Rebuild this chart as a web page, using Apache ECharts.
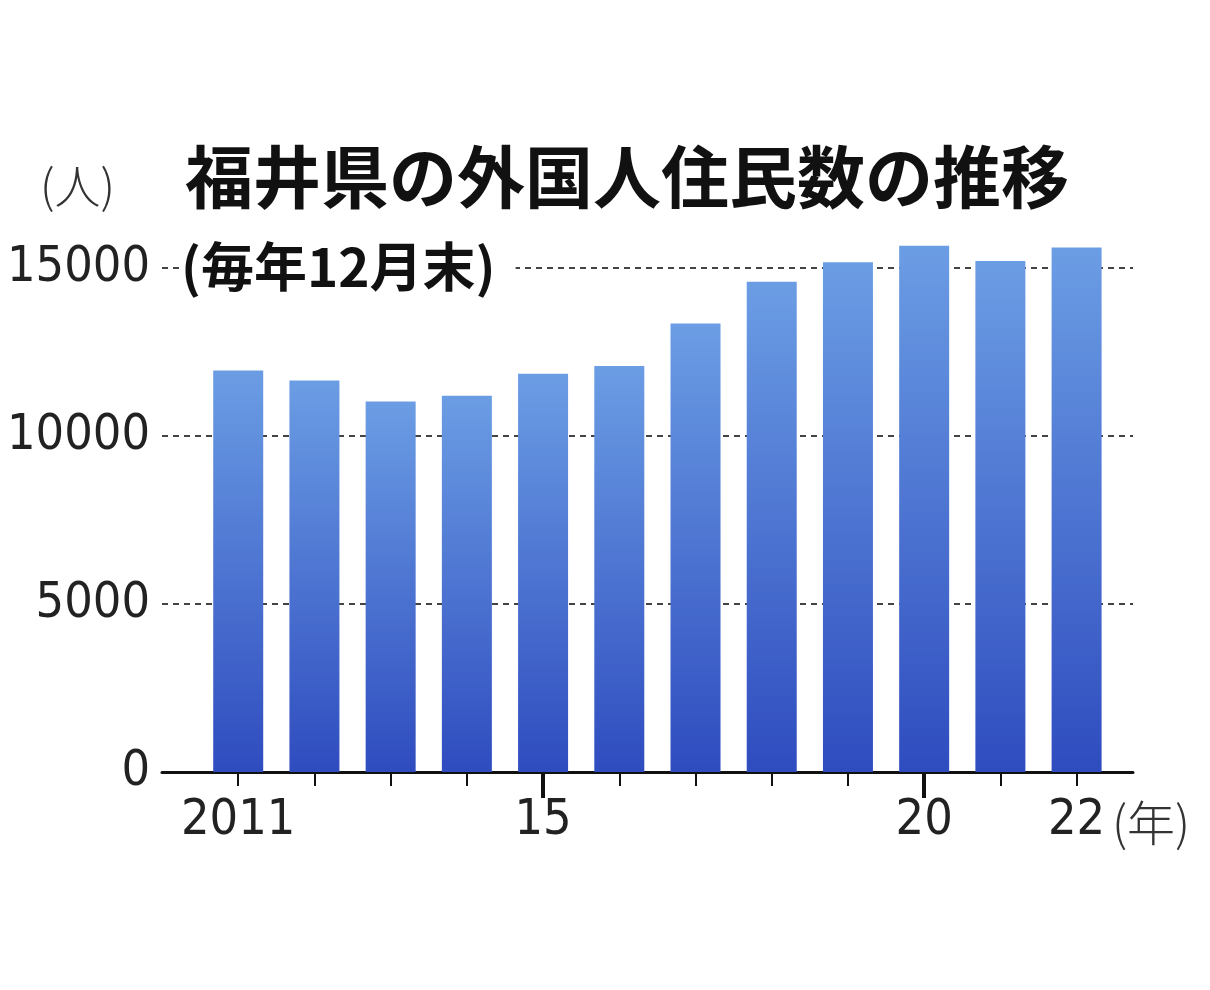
<!DOCTYPE html>
<html>
<head>
<meta charset="utf-8">
<script src="https://cdn.jsdelivr.net/npm/echarts@6/dist/echarts.min.js"></script>
<style>
  html, body { margin: 0; padding: 0; background: #fff; }
  #chart1 { width: 1210px; height: 990px; }
</style>
</head>
<body>
<div id="chart1"></div>
<script>
// 年と外国人住民数（各年12月末）
var years = [2011, 2012, 2013, 2014, 2015, 2016, 2017, 2018, 2019, 2020, 2021, 2022];
var residents = [11950, 11650, 11030, 11200, 11850, 12080, 13350, 14590, 15170, 15660, 15210, 15610];
var yearLabels = [2011, 2015, 2020, 2022];
var majorTicks = [2015, 2020];

var numFont = '"Liberation Sans Narrow", "DejaVu Sans Condensed", sans-serif';
var jpFont = '"Noto Sans CJK JP", sans-serif';

var barData = years.map(function(y, i) { return [y, residents[i]]; });

var option = {
    animation: false,
    title: [{
        text: '福井県の外国人住民数の推移',
        left: 180,
        top: 138,
        textStyle: { fontFamily: jpFont, fontWeight: 'bold', fontSize: 68, color: '#111' }
    }, {
        text: '(毎年12月末)',
        left: 181,
        top: 240,
        backgroundColor: '#fff',
        padding: [0, 20, 0, 0],
        textStyle: { fontFamily: jpFont, fontWeight: 'bold', fontSize: 53, color: '#111' }
    }],
    graphic: [{
        type: 'text',
        left: 40,
        top: 163,
        style: { text: '(人)', font: '300 46px ' + jpFont, fill: '#333' }
    }, {
        type: 'text',
        left: 1112,
        top: 799,
        style: { text: '(年)', font: '300 48px ' + jpFont, fill: '#333' }
    }],
    grid: {
        left: 162,
        right: 77,
        top: 268,
        bottom: 218,
        outerBoundsMode: 'none'
    },
    xAxis: [{
        type: 'value',
        min: 2010,
        max: 2022.74,
        axisLine: { show: true, onZero: false, lineStyle: { color: '#111', width: 3 } },
        axisTick: { show: true, length: 14, customValues: years, lineStyle: { color: '#111', width: 2 } },
        axisLabel: {
            customValues: yearLabels,
            margin: 24,
            fontFamily: numFont,
            fontSize: 50,
            color: '#222',
            formatter: function(v) { return v === 2011 ? '2011' : String(v).slice(2); }
        },
        splitLine: { show: false }
    }, {
        type: 'value',
        min: 2010,
        max: 2022.74,
        position: 'bottom',
        axisLine: { show: false },
        axisTick: { show: true, length: 26, customValues: majorTicks, lineStyle: { color: '#111', width: 4 } },
        axisLabel: { show: false },
        splitLine: { show: false }
    }],
    yAxis: {
        type: 'value',
        min: 0,
        max: 15000,
        interval: 5000,
        axisLine: { show: false },
        axisTick: { show: false },
        axisLabel: {
            margin: 12,
            fontFamily: numFont,
            fontSize: 50,
            color: '#222',
            formatter: function(v) { return String(v); }
        },
        splitLine: { show: true, lineStyle: { color: '#444', width: 2, type: [6, 5] } }
    },
    series: [{
        type: 'bar',
        xAxisIndex: 0,
        barWidth: 50,
        clip: false,
        z: 3,
        itemStyle: {
            color: { type: 'linear', x: 0, y: 0, x2: 0, y2: 1, colorStops: [{ offset: 0, color: '#6b9de4' }, { offset: 1, color: '#2f4cbf' }] }
        },
        data: barData
    }]
};

var chart1 = echarts.init(document.getElementById('chart1'));
chart1.setOption(option);
</script>
</body>
</html>
